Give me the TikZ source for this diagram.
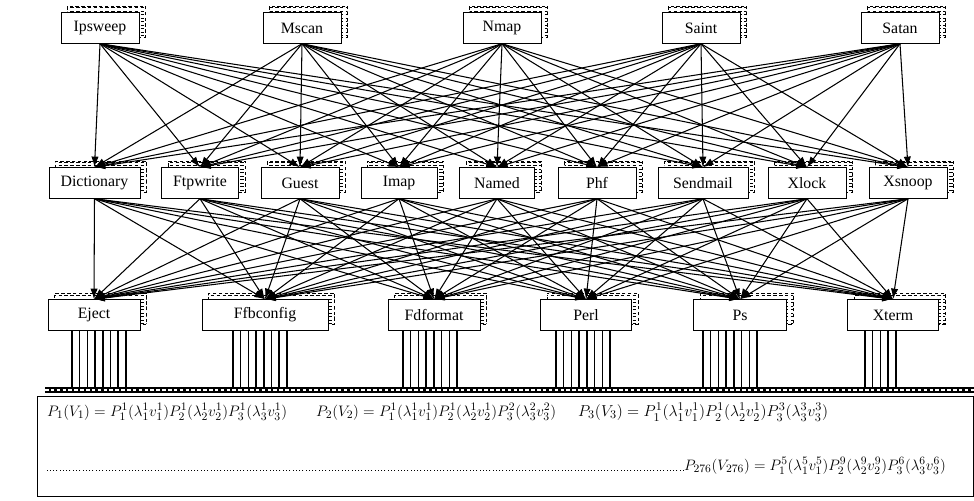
\documentclass[tikz,border=0pt]{standalone}
\usepackage{amsmath,amssymb}
\usepackage{fontspec}
\setmainfont{Liberation Serif}
\usetikzlibrary{arrows.meta,positioning,calc,shadows,patterns}
\tikzset{attack/.style={draw,fill=white,minimum height=.93cm,inner sep=0pt,
    font=\fontsize{13.5}{15}\selectfont,
    copy shadow={shadow xshift=.2cm,shadow yshift=.2cm,draw,densely dashed,pattern=horizontal lines}},
  link/.style={-{Latex[length=3.2mm,width=2.2mm]},line width=.9pt},
  wire/.style={line width=1.2pt},
  prob/.style={inner sep=0pt,font=\fontsize{13}{15}\selectfont}}
\newcommand{\probline}[2]{\resizebox{#1}{!}{$#2$}}

\begin{document}
\begin{tikzpicture}[x=.03cm,y=-.03cm]
\useasboundingbox (0,0) rectangle (974,500);
% tools
\foreach \n/\t/\x in {t1/Ipsweep/100,t2/Mscan/302,t3/Nmap/502,t4/Saint/701,t5/Satan/900}
 \node[attack,minimum width=2.34cm] (\n) at (\x,28) {\t};
% exploits
\foreach \n/\t/\x/\w in {m1/Dictionary/94.5/2.73,m2/Ftpwrite/200/2.31,m3/Guest/300/2.34,
  m4/Imap/399/2.28,m5/Named/497/2.25,m6/Phf/597/2.34,m7/Sendmail/703/2.7,m8/Xlock/807/2.34,
  m9/Xsnoop/908/2.34}
 \node[attack,minimum width=\w cm] (\n) at (\x,183) {\t};
% targets
\foreach \n/\t/\x/\w in {b1/Eject/94/2.76,b2/Ffbconfig/265/3.78,b3/Fdformat/434/2.76,
  b4/Perl/586/2.73,b5/Ps/740/2.79,b6/Xterm/893/2.73}
 \node[attack,minimum width=\w cm] (\n) at (\x,315) {\t};
\foreach \i in {1,...,5}
 \foreach \j in {1,...,9}
  \draw[link] (t\i.south) -- (m\j.north);
\foreach \i in {1,...,9}
 \foreach \j in {1,...,6}
  \draw[link] (m\i.south) -- (b\j.north);
% bundles down to the bar
\foreach \s/\k in {72/8,233/8,403/8,556/8,703/8,865/5}
 \foreach \m in {1,...,\k}
  \draw[wire] (\s+7.7*\m-7.7,331) -- ++(0,56);
\draw[line width=1.6mm] (45,390) -- (974,390);
\draw[white,line width=.5mm,dash pattern=on 3pt off 2pt] (45,390) -- (974,390);
\node[draw,thick,minimum width=28.08cm,minimum height=3cm,inner sep=0pt] (pbox) at (505,446) {};
\node[prob,anchor=west] (f1) at (47,412)
 {\probline{7.2cm}{P_1(V_1)=P_1^1(\lambda_1^1v_1^1)P_2^1(\lambda_2^1v_2^1)P_3^1(\lambda_3^1v_3^1)}};
\node[prob,anchor=west] (f2) at (316,412)
 {\probline{7.2cm}{P_2(V_2)=P_1^1(\lambda_1^1v_1^1)P_2^1(\lambda_2^1v_2^1)P_3^2(\lambda_3^2v_3^2)}};
\node[prob,anchor=west] (f3) at (578,412)
 {\probline{7.5cm}{P_3(V_3)=P_1^1(\lambda_1^1v_1^1)P_2^1(\lambda_2^1v_2^1)P_3^3(\lambda_3^3v_3^3)}};
\node[prob,anchor=east] (f4) at (946,466)
 {\probline{7.85cm}{P_{276}(V_{276})=P_1^5(\lambda_1^5v_1^5)P_2^9(\lambda_2^9v_2^9)P_3^6(\lambda_3^6v_3^6)}};
\draw[dotted,thick] (f4.base west) -- ($(f4.base west -| pbox.west)+(10,0)$);
\end{tikzpicture}
\end{document}
